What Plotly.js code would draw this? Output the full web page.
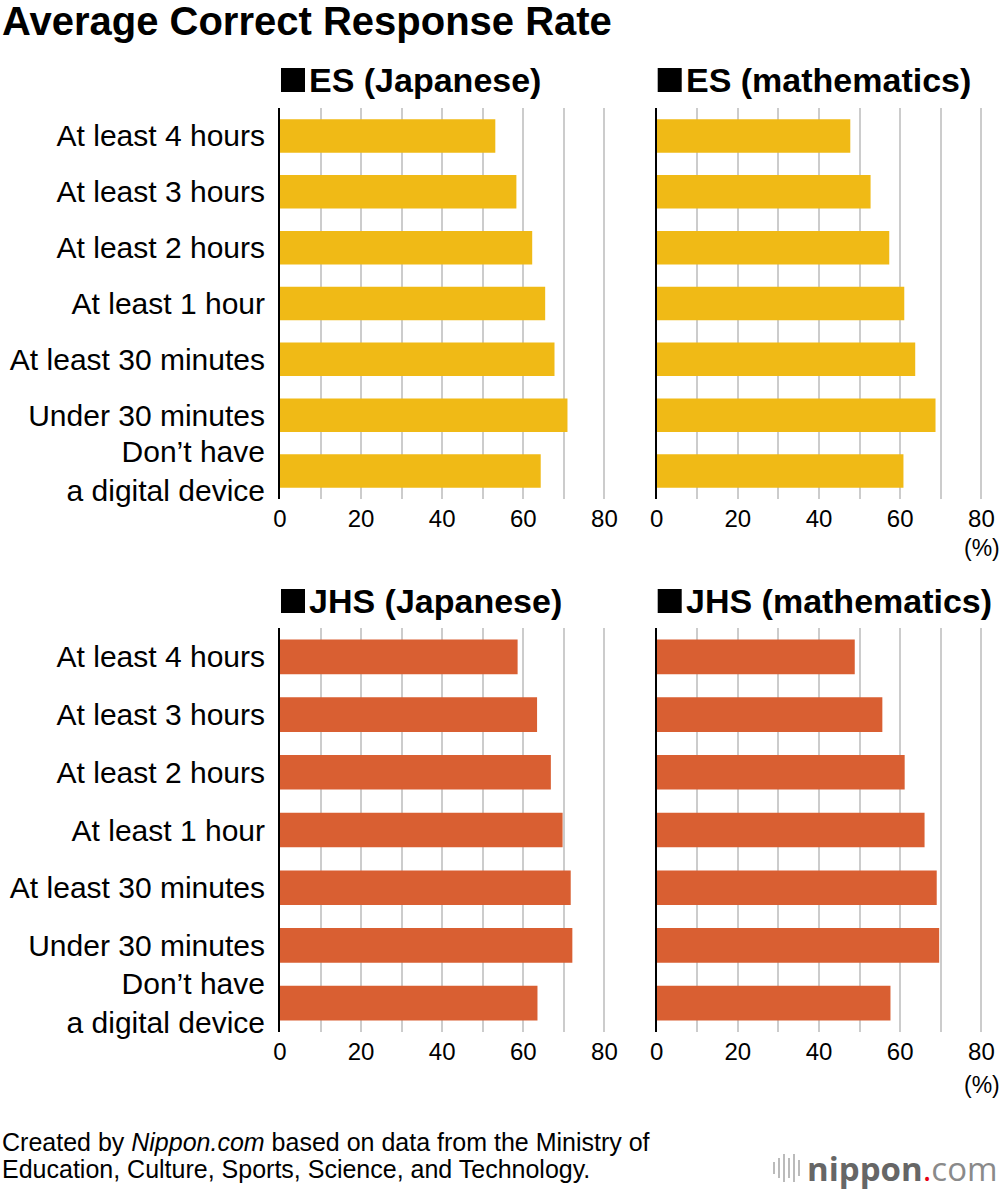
<!DOCTYPE html>
<html>
<head>
<meta charset="utf-8">
<script src="https://cdn.plot.ly/plotly-3.0.1.min.js"></script>
<style>
  html, body { margin: 0; padding: 0; background: #fff; }
  #chart { width: 1000px; height: 1194px; }
</style>
</head>
<body>
<div id="chart"></div>
<script>
// categories, top to bottom
const categories = [
  'At least 4 hours',
  'At least 3 hours',
  'At least 2 hours',
  'At least 1 hour',
  'At least 30 minutes',
  'Under 30 minutes',
  'Don\u2019t have<br>a digital device'
];

// average correct response rate (%)
const esJapanese  = [53.1, 58.3, 62.2, 65.4, 67.7, 70.9, 64.3];
const esMath      = [47.7, 52.7, 57.3, 61.0, 63.7, 68.7, 60.8];
const jhsJapanese = [58.6, 63.4, 66.8, 69.7, 71.7, 72.1, 63.5];
const jhsMath     = [48.8, 55.6, 61.1, 66.0, 69.0, 69.6, 57.6];

const panelTitles = ['ES (Japanese)', 'ES (mathematics)', 'JHS (Japanese)', 'JHS (mathematics)'];

// gridlines every 10, labels every 20
const xTickVals = [0, 10, 20, 30, 40, 50, 60, 70, 80];
const xTickText = ['0', '', '20', '', '40', '', '60', '', '80'];

const yellow = '#F0BA16';
const orange = '#D95F32';
const FONT = 'Liberation Sans, Arial, Helvetica, sans-serif';

const W = 1000, H = 1194;
const px = v => v / W;
const py = v => 1 - v / H;

const colDomains = [[px(280), px(606)], [px(656.7), px(983)]];
const rowDomains = [[py(499), py(108)], [py(1032), py(628)]];
const titleY = [80, 601];

const panels = [
  { vals: esJapanese,  color: yellow, row: 0, col: 0 },
  { vals: esMath,      color: yellow, row: 0, col: 1 },
  { vals: jhsJapanese, color: orange, row: 1, col: 0 },
  { vals: jhsMath,     color: orange, row: 1, col: 1 }
];

const data = [];
const layout = {
  width: W,
  height: H,
  margin: { l: 0, r: 0, t: 0, b: 0, pad: 0 },
  paper_bgcolor: '#fff',
  plot_bgcolor: 'rgba(0,0,0,0)',
  showlegend: false,
  font: { family: FONT, color: '#000' },
  annotations: [],
  shapes: []
};

panels.forEach((p, i) => {
  const n = i === 0 ? '' : String(i + 1);
  data.push({
    type: 'bar',
    orientation: 'h',
    x: p.vals,
    y: categories,
    xaxis: 'x' + n,
    yaxis: 'y' + n,
    marker: { color: p.color, line: { width: 0 } },
    width: 0.6,
    hoverinfo: 'skip'
  });
  layout['xaxis' + n] = {
    domain: colDomains[p.col],
    anchor: 'y' + n,
    range: [0, 80.4],
    tickvals: xTickVals,
    ticktext: xTickText,
    showgrid: true,
    gridcolor: '#cccccc',
    gridwidth: 2,
    zeroline: false,
    showline: false,
    ticks: '',
    ticklabelstandoff: 3,
    tickfont: { size: 24, family: FONT, color: '#000' },
    fixedrange: true
  };
  layout['yaxis' + n] = {
    domain: rowDomains[p.row],
    anchor: 'x' + n,
    type: 'category',
    autorange: 'reversed',
    showline: true,
    linecolor: '#000',
    linewidth: 2,
    showgrid: false,
    zeroline: false,
    ticks: '',
    showticklabels: p.col === 0,
    ticklabelstandoff: 7,
    tickfont: { size: 30, family: FONT, color: '#000' },
    fixedrange: true
  };
  // black square marker + panel title
  const x0 = colDomains[p.col][0] * W + 1;
  const ty = titleY[p.row];
  layout.shapes.push({
    type: 'rect', xref: 'paper', yref: 'paper',
    x0: px(x0), x1: px(x0 + 24), y0: py(ty + 12), y1: py(ty - 12),
    fillcolor: '#000', line: { width: 0 }
  });
  layout.annotations.push({
    xref: 'paper', yref: 'paper',
    x: px(x0 + 26), y: py(ty),
    xanchor: 'left', yanchor: 'middle',
    text: '<b>' + panelTitles[i] + '</b>',
    showarrow: false,
    font: { size: 34, family: FONT, color: '#000' }
  });
});

// (%) unit labels under right axes
[py(548), py(1085)].forEach(yy => {
  layout.annotations.push({
    xref: 'paper', yref: 'paper', x: px(982), y: yy,
    xanchor: 'center', yanchor: 'middle',
    text: '(%)', showarrow: false,
    font: { size: 23, family: FONT, color: '#000' }
  });
});

// chart title
layout.annotations.push({
  xref: 'paper', yref: 'paper', x: 0, y: py(21),
  xanchor: 'left', yanchor: 'middle',
  text: '<b>Average Correct Response Rate</b>',
  showarrow: false,
  font: { size: 40, family: FONT, color: '#000' }
});

// source note
const sourceLines = [
  'Created by <i>Nippon.com</i> based on data from the Ministry of',
  'Education, Culture, Sports, Science, and Technology.'
];
sourceLines.forEach((t, k) => {
  layout.annotations.push({
    xref: 'paper', yref: 'paper', x: 0, y: py(1142 + k * 27),
    xanchor: 'left', yanchor: 'middle', align: 'left',
    text: t, showarrow: false,
    font: { size: 25, family: FONT, color: '#000' }
  });
});

// nippon.com logo
layout.annotations.push({
  xref: 'paper', yref: 'paper', x: 1, y: py(1168),
  xanchor: 'right', yanchor: 'middle',
  text: '<b><span style="color:#666666">nippon</span></b><span style="color:#e60012">.</span><span style="color:#8a8a8a">com</span>',
  showarrow: false,
  font: { size: 33, family: 'Open Sans, ' + FONT, color: '#666' }
});
// little bars icon to the left of the logo
[[774, 6], [779, 10], [784, 14], [789, 10], [794, 14], [799, 8]].forEach(([x, h]) => {
  layout.shapes.push({
    type: 'line', xref: 'paper', yref: 'paper',
    x0: px(x), x1: px(x), y0: py(1168 - h), y1: py(1168 + h),
    line: { color: '#bbbbbb', width: 2 }
  });
});

Plotly.newPlot('chart', data, layout, { staticPlot: true, displayModeBar: false });
</script>
</body>
</html>
